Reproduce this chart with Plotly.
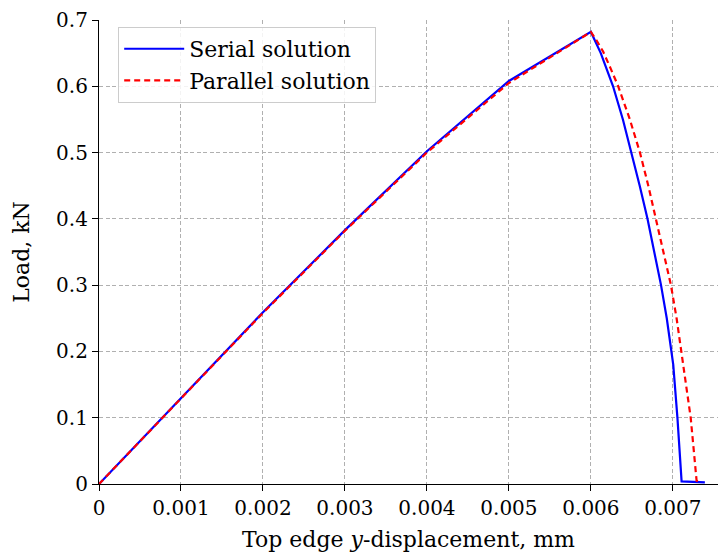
import plotly.graph_objects as go

# Data (displacement in mm, load in kN)
serial_x = [0.0, 0.001, 0.002, 0.003, 0.004, 0.005, 0.006, 0.00612, 0.00627,
            0.00639, 0.006495, 0.006595, 0.00669, 0.006775, 0.006855, 0.006925, 0.00698,
            0.007004, 0.007055, 0.007106, 0.00739]
serial_y = [0.0, 0.130, 0.259, 0.383, 0.502, 0.608, 0.682, 0.650, 0.600,
            0.550, 0.500, 0.450, 0.400, 0.350, 0.300, 0.250, 0.200,
            0.180, 0.100, 0.004, 0.0024]

parallel_x = [0.0, 0.001, 0.002, 0.003, 0.004, 0.005, 0.006, 0.006075, 0.00615, 0.00624, 0.006333,
              0.006475, 0.006598, 0.0067, 0.006793, 0.00689, 0.006976, 0.007045, 0.007105,
              0.007165, 0.007217, 0.007255, 0.007289, 0.00733]
parallel_y = [0.0, 0.129, 0.258, 0.382, 0.500, 0.605, 0.682, 0.668, 0.652, 0.627, 0.600,
              0.550, 0.500, 0.450, 0.400, 0.350, 0.300, 0.250, 0.200,
              0.150, 0.100, 0.050, 0.0050, 0.0024]

x_ticks = [0, 0.001, 0.002, 0.003, 0.004, 0.005, 0.006, 0.007]
x_tick_labels = ["0", "0.001", "0.002", "0.003", "0.004", "0.005", "0.006", "0.007"]
y_ticks = [0, 0.1, 0.2, 0.3, 0.4, 0.5, 0.6, 0.7]
y_tick_labels = ["0", "0.1", "0.2", "0.3", "0.4", "0.5", "0.6", "0.7"]

FONT = "DejaVu Serif"
FS = 20
FS_TITLE = 22

fig = go.Figure()
fig.add_trace(go.Scatter(x=serial_x, y=serial_y, mode="lines", name="Serial solution",
                         line=dict(color="#0000ff", width=2.2)))
fig.add_trace(go.Scatter(x=parallel_x, y=parallel_y, mode="lines", name="Parallel solution",
                         line=dict(color="#ff0000", width=2.2, dash="6px,4px")))

axis_common = dict(
    showline=True, linecolor="black", linewidth=1.2,
    ticks="outside", ticklen=6, tickcolor="black", tickwidth=1.2,
    showgrid=True, gridcolor="#b0b0b0", griddash="4px,2.5px", gridwidth=1,
    zeroline=False, mirror=False,
    tickfont=dict(family=FONT, size=FS, color="black"),
)

fig.update_xaxes(range=[0, 0.00755], tickvals=x_ticks, ticktext=x_tick_labels,
                 title=dict(text="Top edge <i>y</i>-displacement, mm",
                            font=dict(family=FONT, size=FS_TITLE, color="black"), standoff=12),
                 **axis_common)
fig.update_yaxes(range=[0, 0.7], tickvals=y_ticks, ticktext=y_tick_labels,
                 title=dict(text="Load, kN", font=dict(family=FONT, size=FS_TITLE, color="black"),
                            standoff=20),
                 **axis_common)

fig.update_layout(
    width=726, height=558,
    margin=dict(l=99, r=8, t=20, b=74),
    plot_bgcolor="white", paper_bgcolor="white",
    font=dict(family=FONT, size=FS, color="black"),
    legend=dict(x=0.031, y=0.985, xanchor="left", yanchor="top",
                bgcolor="rgba(255,255,255,0.85)", bordercolor="#cccccc", borderwidth=1,
                font=dict(family=FONT, size=FS_TITLE, color="black"),
                tracegroupgap=0, itemwidth=60),
    showlegend=True,
)

fig.write_html("out.html")
